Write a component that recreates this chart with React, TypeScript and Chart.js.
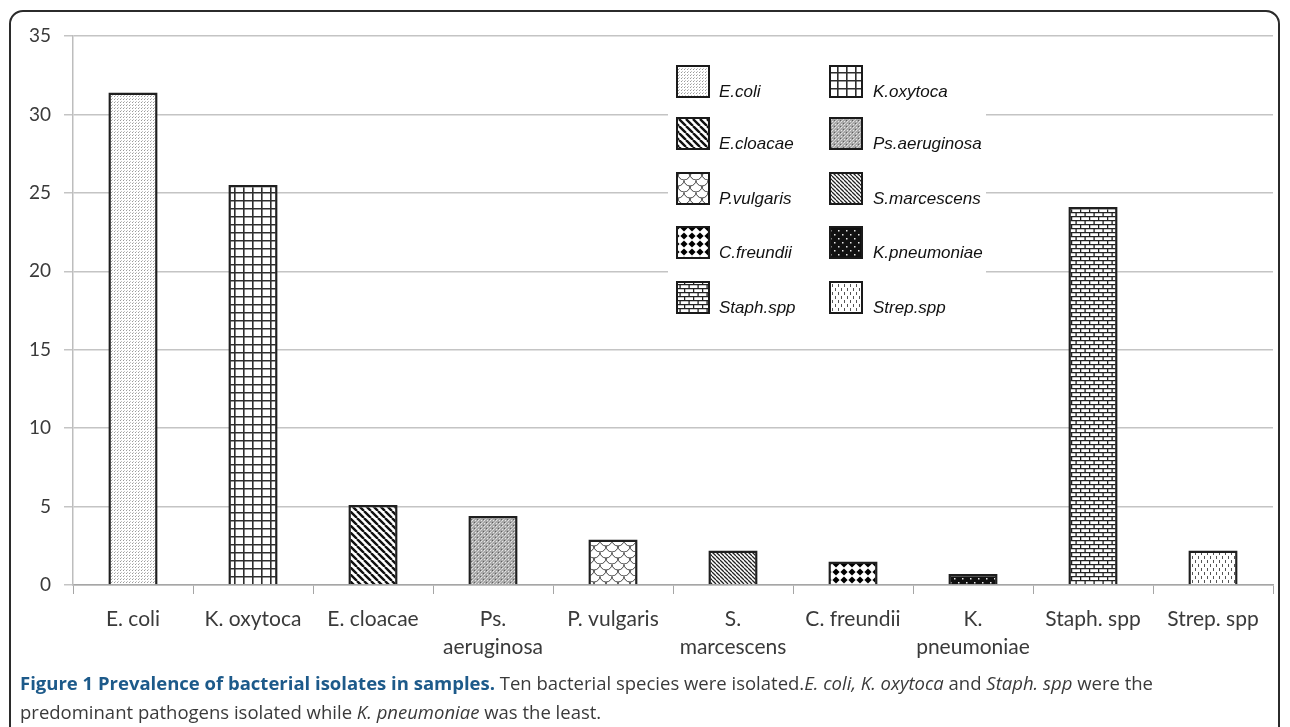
import React, { useEffect, useRef } from "react";
import { Chart, registerables } from "chart.js";

Chart.register(...registerables);

const categories: (string | string[])[] = [
  "E. coli",
  "K. oxytoca",
  "E. cloacae",
  ["Ps.", "aeruginosa"],
  "P. vulgaris",
  ["S.", "marcescens"],
  "C. freundii",
  ["K.", "pneumoniae"],
  "Staph. spp",
  "Strep. spp",
];
const prevalence = [31.4, 25.5, 5.1, 4.4, 2.9, 2.2, 1.5, 0.7, 24.1, 2.2];
const legendNames = [
  "E.coli",
  "K.oxytoca",
  "E.cloacae",
  "Ps.aeruginosa",
  "P.vulgaris",
  "S.marcescens",
  "C.freundii",
  "K.pneumoniae",
  "Staph.spp",
  "Strep.spp",
];
const patternKinds = [
  "stipple",
  "grid",
  "wideDiag",
  "mesh",
  "waves",
  "fineDiag",
  "diamonds",
  "darkDots",
  "brick",
  "dashes",
];
const yMax = 35;
const yStep = 5;

function makePattern(ctx: CanvasRenderingContext2D, kind: string): CanvasPattern | string {
  const c = document.createElement("canvas");
  let w = 8;
  let h = 8;
  if (kind === "stipple") { w = 3; h = 3; }
  if (kind === "grid") { w = 9; h = 8; }
  if (kind === "wideDiag") { w = 7; h = 7; }
  if (kind === "mesh") { w = 6; h = 6; }
  if (kind === "waves") { w = 12; h = 12; }
  if (kind === "fineDiag") { w = 4; h = 4; }
  if (kind === "diamonds") { w = 8; h = 8; }
  if (kind === "darkDots") { w = 8; h = 8; }
  if (kind === "brick") { w = 9; h = 8; }
  if (kind === "dashes") { w = 6; h = 8; }
  c.width = w;
  c.height = h;
  const g = c.getContext("2d")!;
  g.fillStyle = "#ffffff";
  g.fillRect(0, 0, w, h);
  switch (kind) {
    case "stipple":
      g.fillStyle = "#9a9a9a";
      g.fillRect(0, 0, 1, 1);
      g.fillStyle = "#c4c4c4";
      g.fillRect(1, 2, 1, 1);
      break;
    case "grid":
      g.strokeStyle = "#2e2e2e";
      g.lineWidth = 1.6;
      g.beginPath();
      g.moveTo(0.8, 0); g.lineTo(0.8, h);
      g.moveTo(0, 0.8); g.lineTo(w, 0.8);
      g.stroke();
      break;
    case "wideDiag":
      g.strokeStyle = "#111";
      g.lineWidth = 2.4;
      g.beginPath();
      for (let x0 = -w; x0 <= w; x0 += w) {
        g.moveTo(x0, 0);
        g.lineTo(x0 + w, h);
      }
      g.stroke();
      break;
    case "mesh":
      g.fillStyle = "#a8a8a8";
      g.fillRect(0, 0, w, h);
      g.fillStyle = "#e6e6e6";
      g.fillRect(1, 1, 1, 1);
      g.fillRect(4, 4, 1, 1);
      g.fillRect(1, 4, 1, 1);
      g.fillRect(4, 1, 1, 1);
      g.fillStyle = "#606060";
      g.fillRect(0, 0, 1, 1);
      g.fillRect(3, 3, 1, 1);
      g.fillStyle = "#d0d0d0";
      g.fillRect(2, 0, 1, 1);
      g.fillRect(5, 3, 1, 1);
      g.fillRect(0, 2, 1, 1);
      g.fillRect(3, 5, 1, 1);
      break;
    case "waves":
      g.strokeStyle = "#444";
      g.lineWidth = 1;
      g.beginPath();
      g.arc(6, 0, 6, 0, Math.PI);
      g.moveTo(6, 6);
      g.arc(0, 6, 6, 0, Math.PI);
      g.moveTo(18, 6);
      g.arc(12, 6, 6, 0, Math.PI);
      g.moveTo(12, 12);
      g.arc(6, 12, 6, 0, Math.PI);
      g.stroke();
      break;
    case "fineDiag":
      g.strokeStyle = "#222";
      g.lineWidth = 1.3;
      g.beginPath();
      for (let x0 = -w; x0 <= w; x0 += w) {
        g.moveTo(x0, 0);
        g.lineTo(x0 + w, h);
      }
      g.stroke();
      break;
    case "diamonds":
      g.fillStyle = "#000";
      g.beginPath();
      g.moveTo(4, 0.5); g.lineTo(7.6, 4); g.lineTo(4, 7.5); g.lineTo(0.4, 4);
      g.closePath();
      g.fill();
      break;
    case "darkDots":
      g.fillStyle = "#111";
      g.fillRect(0, 0, w, h);
      g.fillStyle = "#e8e8e8";
      g.fillRect(2, 2, 1.5, 1.5);
      g.fillRect(6, 6, 1.5, 1.5);
      break;
    case "brick":
      g.strokeStyle = "#222";
      g.lineWidth = 1.3;
      g.beginPath();
      g.moveTo(0, 0.6); g.lineTo(w, 0.6);
      g.moveTo(0, 4.6); g.lineTo(w, 4.6);
      g.moveTo(0.6, 0); g.lineTo(0.6, 4);
      g.moveTo(5.1, 4); g.lineTo(5.1, 8);
      g.stroke();
      break;
    case "dashes":
      g.fillStyle = "#555";
      g.fillRect(1, 0, 1, 3);
      g.fillRect(4, 4, 1, 3);
      break;
  }
  return ctx.createPattern(c, "repeat") || "#ccc";
}

const legendPlugin = {
  id: "patternLegend",
  afterDraw(chart: any) {
    const ctx: CanvasRenderingContext2D = chart.ctx;
    const patterns = chart.$patterns as (CanvasPattern | string)[];
    ctx.save();
    ctx.fillStyle = "#ffffff";
    ctx.fillRect(668, 52, 318, 280);
    const colBox = [677, 830];
    const colText = [719, 873];
    const rowMid = [92, 144, 199, 253, 308];
    ctx.font = "italic 17px 'Liberation Sans', Arial, sans-serif";
    ctx.textBaseline = "middle";
    ctx.textAlign = "left";
    legendNames.forEach((name, i) => {
      const col = i % 2;
      const row = Math.floor(i / 2);
      const bx = colBox[col];
      const bottom = rowMid[row] + 5;
      const by = bottom - 31;
      ctx.fillStyle = patterns[i];
      ctx.fillRect(bx, by, 32, 31);
      ctx.strokeStyle = "#1a1a1a";
      ctx.lineWidth = 2;
      ctx.strokeRect(bx, by, 32, 31);
      ctx.fillStyle = "#111";
      ctx.fillText(name, colText[col], rowMid[row]);
    });
    ctx.restore();
  },
};

export default function App() {
  const canvasRef = useRef<HTMLCanvasElement | null>(null);

  useEffect(() => {
    const canvas = canvasRef.current!;
    const ctx = canvas.getContext("2d")!;
    const patterns = patternKinds.map((k) => makePattern(ctx, k));
    const chart = new Chart(canvas, {
      type: "bar",
      data: {
        labels: categories as any,
        datasets: [
          {
            data: prevalence,
            backgroundColor: patterns as any,
            borderColor: "#1f1f1f",
            borderWidth: 2.5,
            borderSkipped: "bottom",
            barPercentage: 0.41,
            categoryPercentage: 1,
          },
        ],
      },
      options: {
        responsive: false,
        animation: false,
        devicePixelRatio: 1,
        layout: { padding: { top: 36, right: 17, bottom: 52, left: 0 } },
        plugins: {
          legend: { display: false },
          tooltip: { enabled: false },
          title: { display: false },
        },
        scales: {
          x: {
            offset: true,
            grid: {
              display: true,
              offset: true,
              drawOnChartArea: false,
              drawTicks: true,
              tickLength: 9,
              color: "#a6a6a6",
              lineWidth: 1,
            },
            border: { display: true, color: "#a6a6a6", width: 1.5 },
            ticks: {
              color: "#3a3a3a",
              padding: 12,
              maxRotation: 0,
              autoSkip: false,
              font: { family: "Lato, 'Open Sans', sans-serif", size: 21, lineHeight: 1.3 },
            },
            afterFit(scale: any) {
              scale.height = 90;
            },
          },
          y: {
            min: 0,
            max: yMax,
            ticks: {
              stepSize: yStep,
              color: "#3a3a3a",
              padding: 13,
              font: { family: "Lato, 'Open Sans', sans-serif", size: 19 },
            },
            grid: {
              color: "#c4c4c4",
              lineWidth: 1.5,
              tickLength: 9,
              drawTicks: true,
            },
            border: { display: true, color: "#bdbdbd", width: 1.5 },
            afterFit(scale: any) {
              scale.width = 73;
            },
          },
        },
      },
      plugins: [
        {
          id: "setPatterns",
          beforeInit(c: any) {
            c.$patterns = patterns;
          },
        },
        legendPlugin,
      ],
    });
    return () => chart.destroy();
  }, []);

  const captionFont = "'Open Sans', sans-serif";
  return (
    <div
      style={{
        position: "fixed",
        left: 0,
        top: 0,
        width: 1290,
        height: 727,
        background: "#ffffff",
        overflow: "hidden",
      }}
    >
      <div
        style={{
          position: "absolute",
          left: 9,
          top: 10,
          width: 1271,
          height: 760,
          border: "2px solid #2b2b2b",
          borderRadius: 14,
          boxSizing: "border-box",
        }}
      />
      <canvas
        ref={canvasRef}
        width={1290}
        height={727}
        style={{ position: "absolute", left: 0, top: 0, width: 1290, height: 727 }}
      />
      <div
        style={{
          position: "absolute",
          left: 20,
          top: 668,
          width: 1250,
          fontFamily: captionFont,
          fontSize: 18.5,
          lineHeight: "29px",
          color: "#3a3a3a",
          whiteSpace: "nowrap",
        }}
      >
        <div>
          <span style={{ fontWeight: "bold", color: "#1d5a8a" }}>
            Figure 1 Prevalence of bacterial isolates in samples.
          </span>{" "}
          Ten bacterial species were isolated.<i>E. coli, K. oxytoca</i> and <i>Staph. spp</i> were the
        </div>
        <div>
          predominant pathogens isolated while <i>K. pneumoniae</i> was the least.
        </div>
      </div>
    </div>
  );
}
